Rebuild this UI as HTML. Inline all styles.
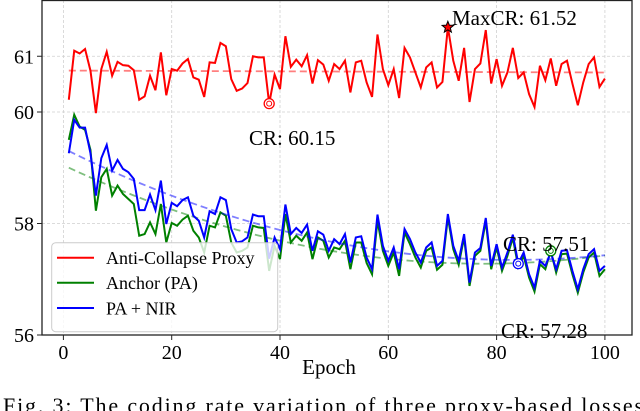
<!DOCTYPE html>
<html><head><meta charset="utf-8"><style>
html,body{margin:0;padding:0;background:#fff;width:640px;height:411px;overflow:hidden}
svg{display:block;font-family:"Liberation Serif",serif}
</style></head><body>
<svg id="chart" width="640" height="411" viewBox="0 0 640 411" xmlns="http://www.w3.org/2000/svg">
<defs><clipPath id="plotclip"><rect x="42" y="0" width="590" height="335"/></clipPath></defs>
<g id="grid"></g>
<g id="series" clip-path="url(#plotclip)"></g>
<rect x="42" y="0.5" width="590" height="334.5" fill="none" stroke="#222" stroke-width="1.3"/>
<g id="ticks"></g>
<text x="329" y="374" font-size="21" text-anchor="middle">Epoch</text>
<text x="3" y="413" font-size="22" textLength="640" lengthAdjust="spacing">Fig. 3: The coding rate variation of three proxy-based losses</text>
<g id="legend">
<rect x="51.7" y="242.7" width="226" height="89" rx="4" fill="#fff" fill-opacity="0.8" stroke="#ccc"/>
<line x1="57" y1="257.7" x2="94" y2="257.7" stroke="#ff0000" stroke-width="2"/>
<text x="106" y="264" font-size="18">Anti-Collapse Proxy</text>
<line x1="57" y1="282.7" x2="94" y2="282.7" stroke="#008000" stroke-width="2"/>
<text x="106" y="289" font-size="18">Anchor (PA)</text>
<line x1="57" y1="308" x2="94" y2="308" stroke="#0000ff" stroke-width="2"/>
<text x="106" y="314.5" font-size="18">PA + NIR</text>
</g>
<g id="annot"></g>
</svg>
<script>
const epochs = Array.from({length:100},(_, i)=>i+1);
const redValues = [60.22,61.10,61.05,61.13,60.74,59.98,60.77,61.08,60.65,60.90,60.84,60.83,60.75,60.22,60.28,60.65,60.39,61.07,60.30,60.77,60.74,60.87,60.95,60.62,60.58,60.27,60.89,60.88,61.24,61.18,60.59,60.38,60.42,60.52,61.00,60.98,60.98,60.15,60.67,60.41,61.36,60.81,60.94,60.82,61.02,60.51,60.93,60.85,60.56,60.86,60.77,60.92,60.35,60.89,60.92,60.53,60.27,61.39,60.77,60.48,60.77,60.25,61.15,60.98,60.71,60.44,60.80,60.89,60.44,60.54,61.52,60.92,60.56,61.15,60.18,60.77,60.87,61.47,60.51,60.95,60.47,60.71,61.15,60.61,60.71,60.32,60.09,60.83,60.57,60.96,60.47,60.86,60.92,60.51,60.12,60.53,60.86,60.98,60.45,60.60];
const greenValues = [59.50,59.95,59.74,59.68,59.32,58.23,58.83,58.98,58.50,58.68,58.53,58.44,58.35,57.78,57.81,58.02,57.81,58.35,57.66,58.01,57.96,58.07,58.14,57.87,57.75,57.48,57.96,57.93,58.20,58.14,57.66,57.48,57.51,57.57,57.96,57.93,57.92,57.15,57.60,57.36,58.17,57.66,57.78,57.69,57.84,57.36,57.75,57.69,57.39,57.57,57.54,57.69,57.18,57.66,57.66,57.29,57.09,58.05,57.51,57.24,57.48,57.06,57.84,57.63,57.39,57.21,57.51,57.57,57.17,57.26,58.11,57.54,57.26,57.75,56.88,57.42,57.51,58.04,57.18,57.57,57.15,57.42,57.74,57.22,57.42,57.03,56.78,57.27,57.18,57.51,57.12,57.45,57.46,57.09,56.76,57.12,57.39,57.48,57.06,57.18];
const blueValues = [59.26,59.86,59.72,59.72,59.26,58.50,59.17,59.41,58.95,59.14,58.98,58.92,58.80,58.24,58.24,58.52,58.24,58.77,57.99,58.37,58.31,58.42,58.47,58.14,58.05,57.75,58.22,58.17,58.47,58.42,57.90,57.66,57.68,57.75,58.16,58.13,58.13,57.37,57.75,57.54,58.34,57.81,57.92,57.83,57.98,57.51,57.86,57.80,57.51,57.72,57.63,57.81,57.30,57.75,57.77,57.39,57.18,58.16,57.60,57.33,57.57,57.18,57.90,57.72,57.48,57.30,57.57,57.66,57.24,57.33,58.17,57.60,57.33,57.81,56.94,57.48,57.56,58.10,57.24,57.63,57.21,57.48,57.80,57.28,57.48,57.09,56.85,57.33,57.24,57.48,57.18,57.51,57.52,57.15,56.82,57.18,57.45,57.54,57.15,57.24];
const xTicks = [0,20,40,60,80,100];
const yTicks = [56,58,60,61];
const annotations = [
  {label:"MaxCR: 61.52", epoch:71, value:61.52},
  {label:"CR: 60.15", epoch:38, value:60.15},
  {label:"CR: 57.51", epoch:90, value:57.51},
  {label:"CR: 57.28", epoch:84, value:57.28}
];

const NS="http://www.w3.org/2000/svg";
function xs(e){return 63.4+e*5.415;}
function ys(v){return 335-(v-56)*55.75;}
function mk(tag,attrs,parent){const el=document.createElementNS(NS,tag);for(const k in attrs)el.setAttribute(k,attrs[k]);parent.appendChild(el);return el;}
const grid=document.getElementById('grid'),series=document.getElementById('series'),ticks=document.getElementById('ticks'),annot=document.getElementById('annot');

xTicks.forEach(t=>{
  const g=mk('line',{x1:xs(t),x2:xs(t),y1:0,y2:335,stroke:'#d0d0d0','stroke-width':0.8,'stroke-dasharray':'3,2'},grid);
  
  
  const tk=mk('line',{x1:xs(t),x2:xs(t),y1:335,y2:340,stroke:'#222','stroke-width':1},ticks);
  
  
  const tl=mk('text',{x:xs(t),y:359,'font-size':20,'text-anchor':'middle'},ticks);
  tl.textContent=t;
  
  
});
yTicks.forEach(t=>{
  const g=mk('line',{x1:42,x2:632,y1:ys(t),y2:ys(t),stroke:'#d0d0d0','stroke-width':0.8,'stroke-dasharray':'3,2'},grid);
  
  
  const tk=mk('line',{x1:37,x2:42,y1:ys(t),y2:ys(t),stroke:'#222','stroke-width':1},ticks);
  
  
  const tl=mk('text',{x:34,y:ys(t)+7,'font-size':20,'text-anchor':'end'},ticks);
  tl.textContent=t;
  
  
});

function polyfit(xv,yv,deg){
  const n=deg+1,A=[];for(let i=0;i<n;i++){A.push(new Array(n+1).fill(0));}
  for(let k=0;k<xv.length;k++){for(let i=0;i<n;i++){for(let j=0;j<n;j++)A[i][j]+=Math.pow(xv[k],i+j);A[i][n]+=yv[k]*Math.pow(xv[k],i);}}
  for(let i=0;i<n;i++){let p=i;for(let r=i+1;r<n;r++)if(Math.abs(A[r][i])>Math.abs(A[p][i]))p=r;[A[i],A[p]]=[A[p],A[i]];
    for(let r=0;r<n;r++){if(r===i)continue;const f=A[r][i]/A[i][i];for(let c=i;c<=n;c++)A[r][c]-=f*A[i][c];}}
  return A.map((row,i)=>row[n]/row[i]);
}
function drawSeries(vals,color,name,deg){
  const c=polyfit(epochs,vals,deg);
  const tr=epochs.map(e=>c.reduce((s,ci,i)=>s+ci*Math.pow(e,i),0));
  const t=mk('polyline',{points:epochs.map((e,i)=>xs(e)+','+ys(tr[i])).join(' '),fill:'none',stroke:color,'stroke-width':1.8,'stroke-opacity':0.5,'stroke-dasharray':'7,4'},series);
  
  
  const l=mk('polyline',{points:epochs.map((e,i)=>xs(e)+','+ys(vals[i])).join(' '),fill:'none',stroke:color,'stroke-width':2,'stroke-linejoin':'miter'},series);
  
  
}
drawSeries(redValues,'#ff0000','anti-collapse-proxy',1);
drawSeries(greenValues,'#008000','anchor-pa',2);
drawSeries(blueValues,'#0000ff','pa-nir',2);

function ring(e,v,color,name){
  const a=mk('circle',{cx:xs(e),cy:ys(v),r:5,fill:'#fff',stroke:color,'stroke-width':1.3},annot);
  
  
  const b=mk('circle',{cx:xs(e),cy:ys(v),r:2.5,fill:'none',stroke:color,'stroke-width':1},annot);
  
  
}
ring(annotations[1].epoch,annotations[1].value,'#ff0000','min-red-marker');
ring(annotations[2].epoch,annotations[2].value,'#008000','green-marker');
ring(annotations[3].epoch,annotations[3].value,'#0000ff','blue-marker');
(function(){
  const cx=xs(annotations[0].epoch),cy=ys(annotations[0].value),pts=[];
  for(let i=0;i<10;i++){const r=i%2?2.6:6;const a=-Math.PI/2+i*Math.PI/5;pts.push((cx+r*Math.cos(a)).toFixed(2)+','+(cy+r*Math.sin(a)).toFixed(2));}
  const s=mk('polygon',{points:pts.join(' '),fill:'#ff0000',stroke:'#000','stroke-width':1},annot);
  
  
})();
const labelPos=[[452,25],[249,145],[503,251],[501,338]];
annotations.forEach((a,i)=>{
  const t=mk('text',{x:labelPos[i][0],y:labelPos[i][1],'font-size':21},annot);
  t.textContent=a.label;
  
  
});
</script>
</body></html>
